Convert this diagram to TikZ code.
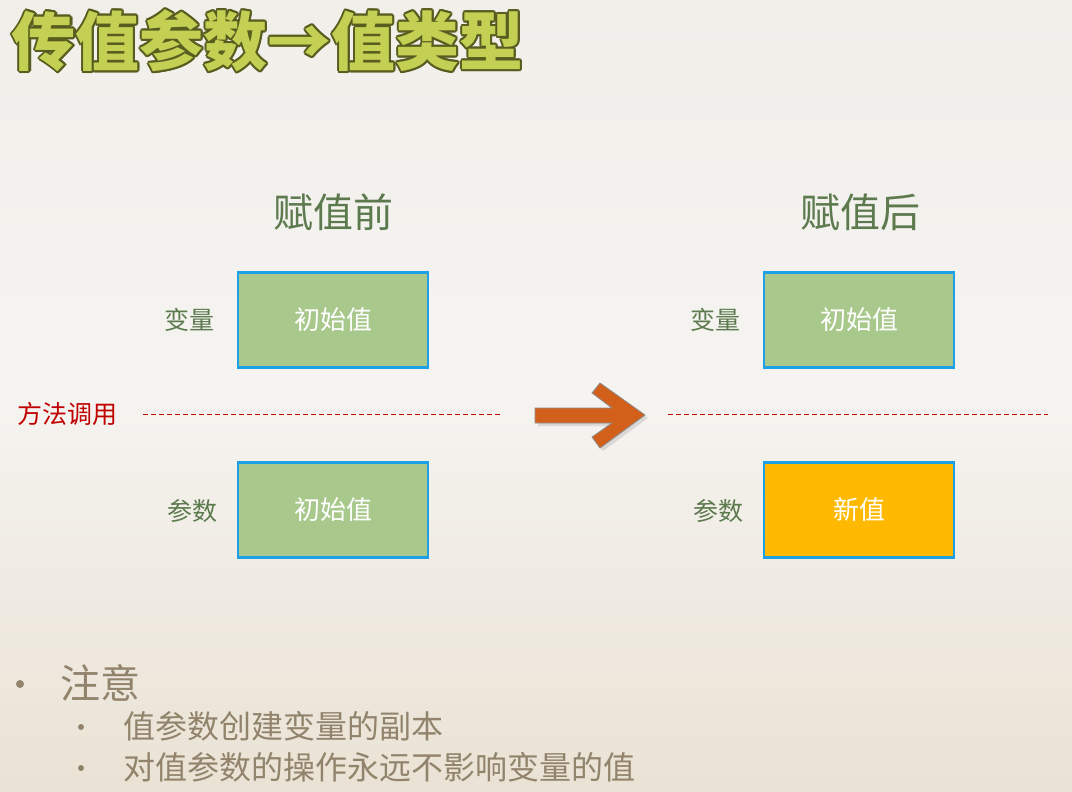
\documentclass[tikz,border=0pt]{standalone}
\usepackage{fontspec}
\usepackage[copies]{contour}
\setmainfont{Noto Sans CJK SC}
\newfontfamily\cjk{Noto Sans CJK SC}
\usetikzlibrary{positioning,calc,shapes}

\definecolor{bgtop}{RGB}{241,239,234}
\definecolor{bgbot}{RGB}{234,226,212}
\definecolor{titlefill}{RGB}{196,208,84}
\definecolor{titleline}{RGB}{88,92,30}
\definecolor{headgreen}{RGB}{92,122,78}
\definecolor{boxgreen}{RGB}{168,200,140}
\definecolor{boxamber}{RGB}{255,185,0}
\definecolor{boxline}{RGB}{30,160,230}
\definecolor{callred}{RGB}{192,0,0}
\definecolor{arroworange}{RGB}{210,96,26}
\definecolor{notegray}{RGB}{146,132,108}

\tikzset{
  valbox/.style={draw=boxline, line width=2.4pt, fill=boxgreen, minimum width=190pt,
    minimum height=95pt, inner sep=0pt, text=white, font=\cjk\fontsize{26}{30}\selectfont},
  varlabel/.style={text=headgreen, font=\cjk\fontsize{25}{30}\selectfont},
  phase/.style={text=headgreen, font=\cjk\fontsize{40}{46}\selectfont},
  callline/.style={draw=callred, dash pattern=on 5pt off 3pt, line width=0.9pt},
  note/.style={text=notegray, anchor=west, inner sep=0pt},
  dot/.style={circle, fill=notegray, inner sep=0pt}
}

\begin{document}
\begin{tikzpicture}[x=1pt,y=-1pt]
% background
\shade[top color=bgtop, bottom color=bgbot, middle color=bgtop!70!white] (0,0) rectangle (1072,792);
\useasboundingbox (0,0) rectangle (1072,792);

% title
\node[inner sep=0pt] (title) at (268,42) {\contourlength{2pt}\contournumber{12}\fontsize{64}{72}\selectfont\bfseries
  \contour{titleline}{\textcolor{titlefill}{传值参数→值类型}}};

% before assignment
\node[phase] (before) at (333,212) {赋值前};
\node[valbox] (var1) at (333,320) {初始值};
\node[valbox] (par1) at (333,510) {初始值};
\node[varlabel] (varlab1) at (189,320) {变量};
\node[varlabel] (parlab1) at (192,511) {参数};

% after assignment
\node[phase] (after) at (860,212) {赋值后};
\node[valbox] (var2) at (859,320) {初始值};
\node[valbox, fill=boxamber] (par2) at (859,510) {新值};
\node[varlabel] (varlab2) at (715,320) {变量};
\node[varlabel] (parlab2) at (718,511) {参数};

% method call
\node[text=callred, font=\cjk\fontsize{25}{30}\selectfont] (call) at (67,414) {方法调用};
\coordinate (l1) at (143,414);
\coordinate (l2) at (500,414);
\coordinate (r1) at (668,414);
\coordinate (r2) at (1048,414);
\draw[callline] (l1) -- (l2);
\draw[callline] (r1) -- (r2);

% big arrow
\fill[black!25, opacity=0.5] (538,411) -- (615,411) -- (595,396) -- (603,386) -- (648,418)
  -- (603,451) -- (595,440) -- (615,426) -- (538,426) -- cycle;
\draw[fill=arroworange, draw=black!45, line width=0.8pt] (535,408) -- (612,408) -- (592,393)
  -- (600,383) -- (645,415) -- (600,448) -- (592,437) -- (612,423) -- (535,423) -- cycle;

% notes
\node[dot, minimum size=8pt] (b0) at (20,684) {};
\node[note, font=\cjk\fontsize{40}{46}\selectfont] (n0) at (60,683) {注意};
\node[dot, minimum size=6pt] (b1) at (81,727) {};
\node[note, font=\cjk\fontsize{32}{36}\selectfont] (n1) at (123,726) {值参数创建变量的副本};
\node[dot, minimum size=6pt] (b2) at (81,768) {};
\node[note, font=\cjk\fontsize{32}{36}\selectfont] (n2) at (123,767) {对值参数的操作永远不影响变量的值};
\end{tikzpicture}
\end{document}
